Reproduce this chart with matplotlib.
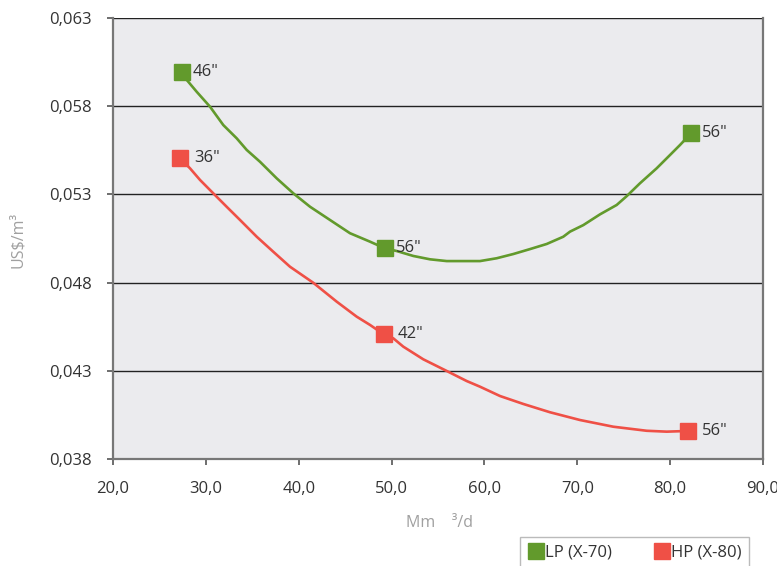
import matplotlib.pyplot as plt
from matplotlib.lines import Line2D

plt.rcParams['font.family'] = ['Open Sans', 'DejaVu Sans']

# LP (X-70) curve
lp_x = [27.40, 27.94, 29.01, 30.45, 31.88, 33.32, 34.40, 35.83, 37.63, 39.42,
        41.22, 43.37, 45.52, 47.68, 49.29, 50.55, 52.34, 54.14, 55.94, 59.52,
        61.32, 63.11, 64.91, 66.71, 68.49, 69.22, 70.65, 72.45, 74.24, 75.32,
        76.75, 78.55, 79.98, 81.06, 82.25]
lp_y = [0.05992, 0.05949, 0.05882, 0.05797, 0.05693, 0.05618, 0.05552, 0.05485,
        0.05391, 0.05306, 0.05230, 0.05155, 0.05080, 0.05032, 0.04994, 0.04979,
        0.04951, 0.04932, 0.04922, 0.04922, 0.04938, 0.04962, 0.04990, 0.05019,
        0.05060, 0.05089, 0.05126, 0.05187, 0.05240, 0.05290, 0.05363, 0.05448,
        0.05523, 0.05580, 0.05646]

# HP (X-80) curve
hp_x = [27.22, 28.29, 29.37, 30.80, 32.24, 33.68, 35.48, 37.26, 39.06, 41.57,
        44.09, 46.24, 47.68, 49.18, 50.19, 51.26, 53.42, 55.94, 58.09, 59.52,
        61.68, 64.19, 67.06, 70.29, 73.88, 77.48, 79.63, 81.96]
hp_y = [0.05505, 0.05448, 0.05382, 0.05306, 0.05230, 0.05155, 0.05060, 0.04975,
        0.04890, 0.04799, 0.04692, 0.04607, 0.04560, 0.04506, 0.04484, 0.04437,
        0.04365, 0.04299, 0.04242, 0.04210, 0.04157, 0.04112, 0.04065, 0.04021,
        0.03983, 0.03960, 0.03955, 0.03959]

# labelled points (pipe diameters)
lp_pts_x = [27.40, 49.29, 82.25]
lp_pts_y = [0.05992, 0.04994, 0.05646]
lp_labels = ['46"', '56"', '56"']
hp_pts_x = [27.22, 49.18, 81.96]
hp_pts_y = [0.05505, 0.04506, 0.03959]
hp_labels = ['36"', '42"', '56"']

yticks = [0.038, 0.043, 0.048, 0.053, 0.058, 0.063]
xticks = [20, 30, 40, 50, 60, 70, 80, 90]

green = '#629a2c'
red = '#ef5046'
txt = '#333333'

fig = plt.figure(figsize=(7.77, 5.66), dpi=100)
ax = fig.add_axes([113 / 777, 1 - 459 / 566, 650 / 777, 441 / 566])
ax.set_facecolor('#ebebee')

ax.plot(lp_x, lp_y, color=green, lw=1.9, zorder=3)
ax.plot(hp_x, hp_y, color=red, lw=1.9, zorder=3)
ax.plot(lp_pts_x, lp_pts_y, ls='none', marker='s', ms=11.5, color=green, zorder=4)
ax.plot(hp_pts_x, hp_pts_y, ls='none', marker='s', ms=11.5, color=red, zorder=4)

for x, y, s in zip(lp_pts_x, lp_pts_y, lp_labels):
    ax.annotate(s, (x, y), xytext=(8, 0), textcoords='offset points',
                va='center', ha='left', fontsize=12, color=txt)
for x, y, s in zip(hp_pts_x, hp_pts_y, hp_labels):
    ax.annotate(s, (x, y), xytext=(10, 0), textcoords='offset points',
                va='center', ha='left', fontsize=12, color=txt)

ax.set_xlim(20, 90)
ax.set_ylim(0.038, 0.063)
ax.set_xticks(xticks)
ax.set_yticks(yticks)
ax.set_xticklabels([f'{v:.1f}'.replace('.', ',') for v in xticks])
ax.set_yticklabels([f'{v:.3f}'.replace('.', ',') for v in yticks])
ax.tick_params(colors='#555555', labelcolor=txt, labelsize=12, length=4.5, width=1.2)
ax.tick_params(axis='x', pad=11)
ax.tick_params(axis='y', pad=11)

ax.grid(axis='y', color='#222222', lw=1)
ax.set_axisbelow(True)
for side in ['left', 'bottom', 'right']:
    ax.spines[side].set_color('#777777')
    ax.spines[side].set_linewidth(1.6)
ax.spines['top'].set_visible(False)

fig.text(18 / 777, 1 - 240 / 566, 'US$/m³', rotation=90, color='#a0a0a0',
         fontsize=11.5, ha='center', va='center')
fig.text(439 / 777, 1 - 523 / 566, 'Mm    ³/d', color='#a0a0a0',
         fontsize=11.5, ha='center', va='center')

handles = [Line2D([], [], ls='none', marker='s', ms=11, color=green),
           Line2D([], [], ls='none', marker='s', ms=11, color=red)]
leg = fig.legend(handles, ['LP (X-70)', 'HP (X-80)'], ncol=2,
                 loc='upper left', bbox_to_anchor=(520 / 777, 1 - 537 / 566),
                 borderaxespad=0, fontsize=12, frameon=True, fancybox=False,
                 borderpad=0.45, handletextpad=0.05, columnspacing=2.5,
                 handlelength=1.0)
leg.get_frame().set_edgecolor('#aaaaaa')
leg.get_frame().set_linewidth(1)
for t in leg.get_texts():
    t.set_color(txt)

fig.savefig('out.png', dpi=100)
